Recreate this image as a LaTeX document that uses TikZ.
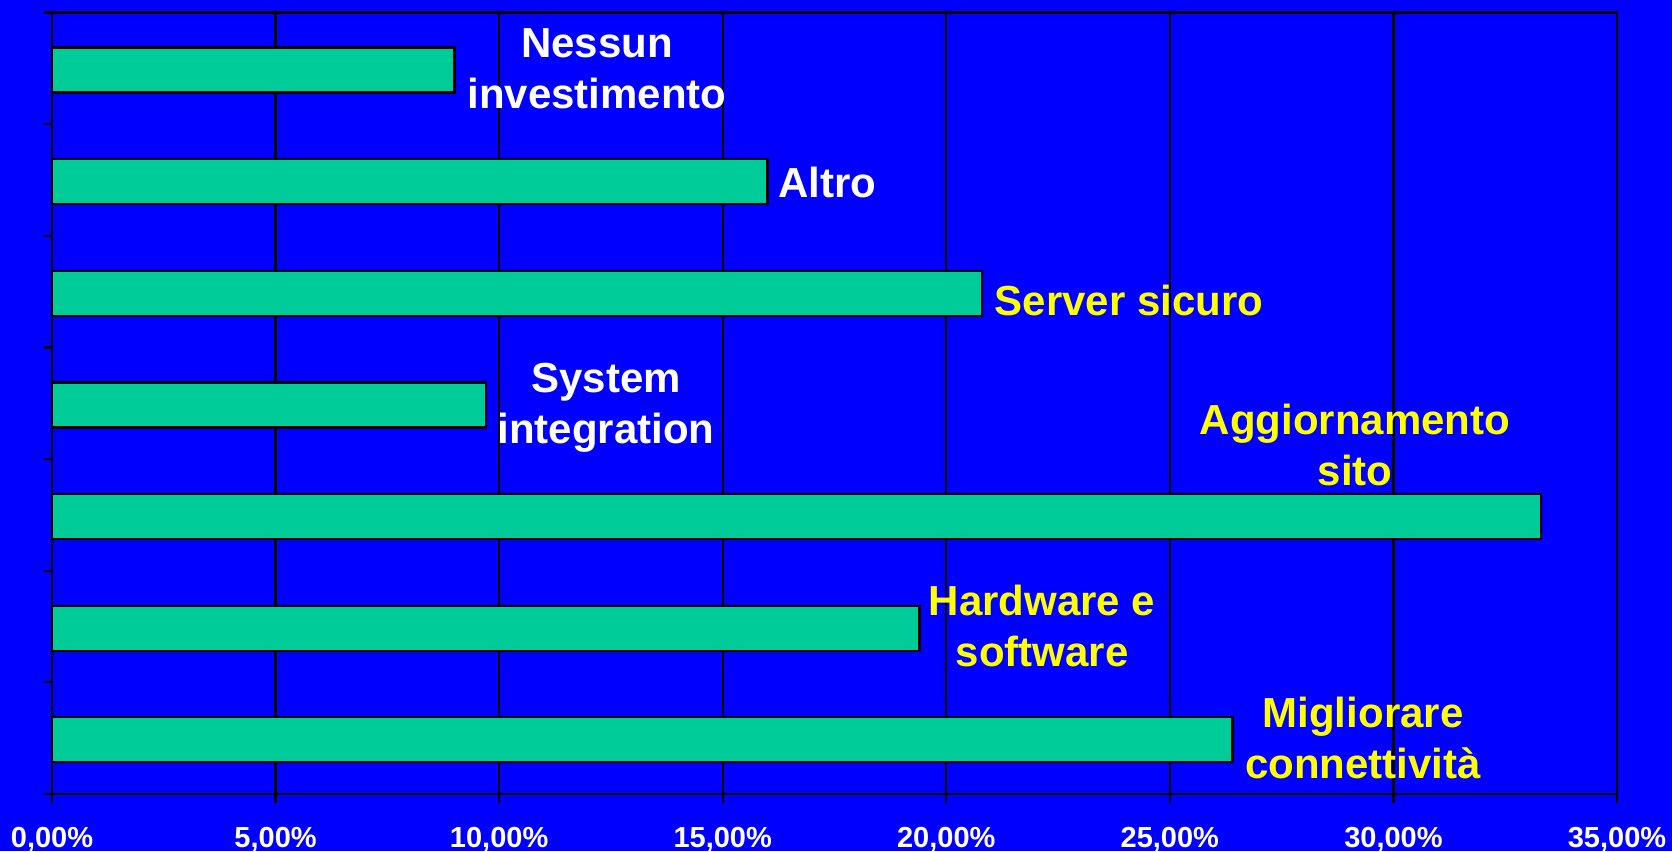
\documentclass[tikz,border=0pt]{standalone}
\usepackage{fontspec}
\setmainfont{Liberation Sans}
\definecolor{folie}{RGB}{0,0,255}
\definecolor{balken}{RGB}{0,204,153}
\definecolor{gelb}{RGB}{255,255,0}
\tikzset{
	balkenbox/.style={line width=2.2pt, draw=black, fill=balken},
	gitter/.style={line width=2.2pt, draw=black},
	etikett/.style={font=\fontsize{42}{51}\selectfont\bfseries, align=center,
	inner sep=0pt, anchor=base},
	achsentext/.style={font=\fontsize{29}{34}\selectfont\bfseries, text=white,
	inner sep=0pt, anchor=base}
}
\begin{document}
\begin{tikzpicture}[x=1pt, y=-1pt]
	% Hintergrund
	\fill[folie] (0,0) rectangle (1672,851);
	\useasboundingbox (0,0) rectangle (1672,851);
	% Gitterlinien und Rahmen
	\draw[gitter] (52,12.5) rectangle (1617,794);
	\foreach \x in {1,...,6}
		\pgfmathsetmacro{\xpos}{52+\x*223.57}
		\draw[gitter] (\xpos,12.5) -- (\xpos,794);
	% Balken
	\filldraw[balkenbox] (52,47.5) rectangle (454.4,92.5);
	\filldraw[balkenbox] (52,159.1) rectangle (767.4,204.1);
	\filldraw[balkenbox] (52,270.8) rectangle (982.1,315.8);
	\filldraw[balkenbox] (52,382.4) rectangle (485.7,427.4);
	\filldraw[balkenbox] (52,494.1) rectangle (1541,539.1);
	\filldraw[balkenbox] (52,605.7) rectangle (919.5,650.7);
	\filldraw[balkenbox] (52,717.3) rectangle (1232.5,762.3);
	% Achsen
	\draw[gitter] (52,12.5) -- (52,794);
	\draw[gitter] (44,794) -- (1617,794);
	% Striche links
	\foreach \y in {0,...,7}
		\pgfmathsetmacro{\ypos}{12.5+\y*111.64}
		\draw[gitter] (44,\ypos) -- (52,\ypos);
	% Striche unten und Prozentwerte
	\foreach \x in {0,...,7}
		\pgfmathsetmacro{\xpos}{52+\x*223.57}
		\pgfmathsetmacro{\wert}{int(\x*5)}
		\draw[gitter] (\xpos,794) -- (\xpos,803)
		node[achsentext] (proz\x) at (\xpos,847) {\wert,00\%};
	% Beschriftungen (Grundlinie der letzten Zeile)
	\node[etikett, text=white] (nessun) at (597,108) {Nessun\\investimento};
	\node[etikett, text=white] (altro) at (827,197) {Altro};
	\node[etikett, text=gelb] (server) at (1129,315) {Server sicuro};
	\node[etikett, text=white] (system) at (606,443) {System\\integration};
	\node[etikett, text=gelb] (aggiorn) at (1355,485) {Aggiornamento\\sito};
	\node[etikett, text=gelb] (hardware) at (1042,666) {Hardware e\\software};
	\node[etikett, text=gelb] (miglior) at (1363,778) {Migliorare\\connettività};
\end{tikzpicture}
\end{document}
